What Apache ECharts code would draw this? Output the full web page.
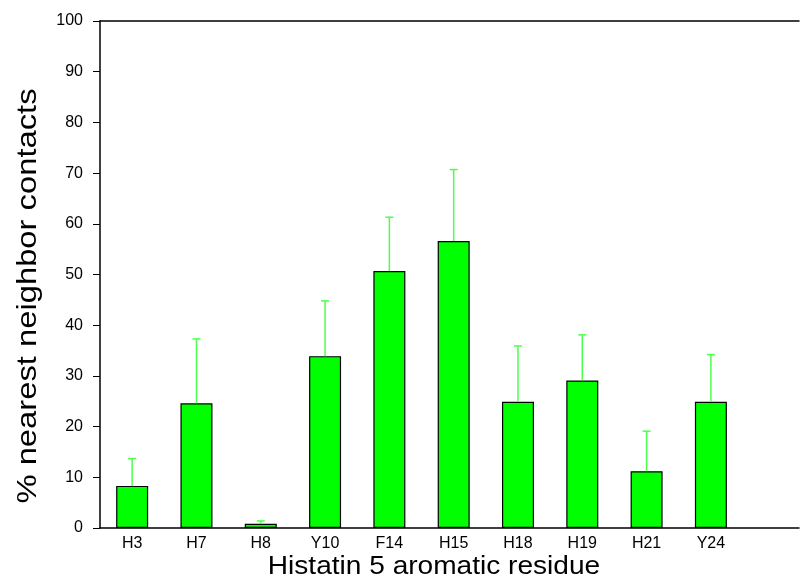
<!DOCTYPE html>
<html>
<head>
<meta charset="utf-8">
<title>Histatin 5 aromatic residue contacts</title>
<script src="https://cdn.jsdelivr.net/npm/echarts@6/dist/echarts.min.js"></script>
<style>
  html, body { margin: 0; padding: 0; background: #fff; }
  #chart { width: 802px; height: 582px; }
</style>
</head>
<body>
<div id="chart"></div>
<script>
// Residues along the x axis
const residues = ['H3', 'H7', 'H8', 'Y10', 'F14', 'H15', 'H18', 'H19', 'H21', 'Y24'];
// Mean % nearest neighbor contacts
const contacts = [8.3, 24.6, 0.85, 33.9, 50.7, 56.6, 24.9, 29.1, 11.2, 24.9];
// Upper error (added on top of the mean)
const errors = [5.4, 12.7, 0.55, 10.9, 10.6, 14.1, 11.0, 9.0, 7.9, 9.3];
// Y-axis tick range
const yTicks = { min: 0, max: 100, step: 10 };

const FONT = 'Liberation Sans, Arial, Helvetica, sans-serif';

// Each residue sits in the middle of a unit slot: 0.5, 1.5, ...
const slotPos = residues.map((_, i) => i + 0.5);
const barData = contacts.map((v, i) => [slotPos[i], v]);
const errData = contacts.map((v, i) => [slotPos[i], v, errors[i]]);

function labelFor(val) {
  const k = val - 0.5;
  const idx = Math.round(k);
  if (Math.abs(k - idx) < 1e-6 && idx >= 0 && idx < residues.length) return residues[idx];
  return '';
}

const chart = echarts.init(document.getElementById('chart'), null, { renderer: 'canvas' });

chart.setOption({
  animation: false,
  backgroundColor: '#ffffff',
  grid: { left: 100, right: 0, top: 21, bottom: 54 },
  xAxis: [
    {
      type: 'value',
      min: 0,
      max: 10.87,
      interval: 0.5,
      axisLine: { show: true, onZero: false, lineStyle: { color: '#000', width: 1.5 } },
      axisTick: { show: false },
      splitLine: { show: false },
      axisLabel: {
        show: true,
        margin: 8,
        color: '#000',
        fontFamily: FONT,
        fontSize: 16,
        showMinLabel: true,
        showMaxLabel: true,
        formatter: labelFor
      }
    },
    {
      // top frame line
      type: 'value',
      position: 'top',
      min: 0,
      max: 10.87,
      axisLine: { show: true, onZero: false, lineStyle: { color: '#000', width: 1.5 } },
      axisTick: { show: false },
      axisLabel: { show: false },
      splitLine: { show: false }
    }
  ],
  yAxis: {
    type: 'value',
    min: yTicks.min,
    max: yTicks.max,
    interval: yTicks.step,
    axisLine: { show: true, lineStyle: { color: '#000', width: 1.5 } },
    axisTick: { show: true, inside: false, length: 7, lineStyle: { color: '#000', width: 1 } },
    splitLine: { show: false },
    axisLabel: { margin: 17, color: '#000', fontFamily: FONT, fontSize: 16 }
  },
  graphic: [
    {
      type: 'text',
      x: 434,
      y: 567,
      scaleX: 1.08,
      style: {
        text: 'Histatin 5 aromatic residue',
        fontFamily: FONT,
        fontSize: 26,
        fill: '#000',
        align: 'center',
        verticalAlign: 'middle'
      }
    },
    {
      type: 'text',
      x: 28,
      y: 296,
      rotation: Math.PI / 2,
      scaleX: 1.17,
      style: {
        text: '% nearest neighbor contacts',
        fontFamily: FONT,
        fontSize: 28,
        fill: '#000',
        align: 'center',
        verticalAlign: 'middle'
      }
    }
  ],
  series: [
    {
      type: 'bar',
      xAxisIndex: 0,
      data: barData,
      barWidth: 32,
      itemStyle: { color: '#00ff00', borderColor: '#000', borderWidth: 1.2 },
      z: 2
    },
    {
      type: 'custom',
      xAxisIndex: 0,
      data: errData,
      z: 3,
      renderItem: function (params, api) {
        const x = api.value(0);
        const v = api.value(1);
        const e = api.value(2);
        const base = api.coord([x, v]);
        const top = api.coord([x, v + e]);
        const half = 4;
        const style = { stroke: '#4dff4d', lineWidth: 1.5 };
        return {
          type: 'group',
          children: [
            { type: 'line', shape: { x1: base[0], y1: base[1], x2: top[0], y2: top[1] }, style: style },
            { type: 'line', shape: { x1: top[0] - half, y1: top[1], x2: top[0] + half, y2: top[1] }, style: style }
          ]
        };
      }
    }
  ]
});
</script>
</body>
</html>
